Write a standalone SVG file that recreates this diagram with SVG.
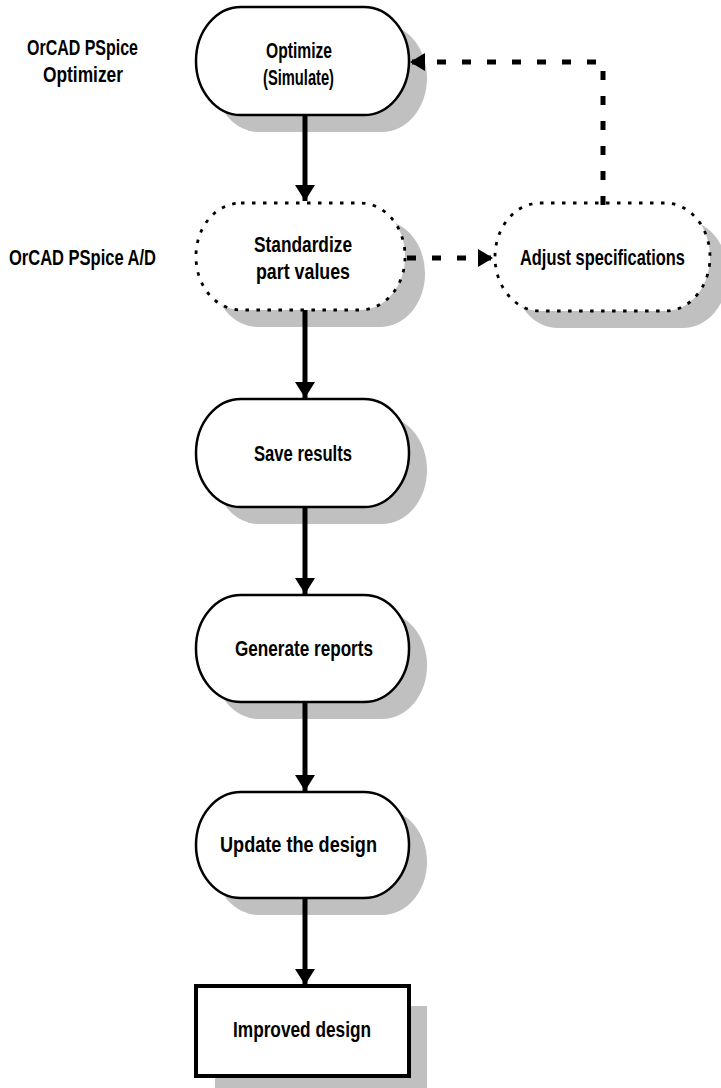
<svg xmlns="http://www.w3.org/2000/svg" width="721" height="1088" viewBox="0 0 721 1088">
<style>
.shadow{fill:#c0c0c0;stroke:none}
.node{fill:#fff;stroke:#000;stroke-width:2.5}
.dotted{fill:#fff;stroke:#000;stroke-width:2.8;stroke-dasharray:3.5 7.5}
.box{fill:#fff;stroke:#000;stroke-width:4}
.t{font-family:"Liberation Sans Narrow","Liberation Sans",Arial,sans-serif;font-weight:bold;font-size:22px;fill:#000}
.conn{fill:none;stroke:#000;stroke-width:5}
.dash{fill:none;stroke:#000;stroke-width:5;stroke-dasharray:9 16}
</style>
<defs>
<marker id="ah" markerUnits="userSpaceOnUse" markerWidth="20" markerHeight="22" refX="16" refY="10" orient="auto">
<path d="M0,0 L16,10 L0,20 Z" fill="#000"/>
</marker>
<marker id="ahs" markerUnits="userSpaceOnUse" markerWidth="18" markerHeight="20" refX="15" refY="9" orient="auto">
<path d="M0,0 L15,9 L0,18 Z" fill="#000"/>
</marker>
</defs>
<g id="labels">
<text class="t" x="27" y="55" textLength="111" lengthAdjust="spacingAndGlyphs">OrCAD PSpice</text>
<text class="t" x="43" y="82" textLength="80" lengthAdjust="spacingAndGlyphs">Optimizer</text>
<text class="t" x="9" y="265" textLength="147" lengthAdjust="spacingAndGlyphs">OrCAD PSpice A/D</text>
</g>
<g id="node-optimize">
<rect class="shadow" x="214" y="24" width="213" height="108" rx="45" ry="54"/>
<rect class="node" x="196" y="7" width="213" height="108" rx="45" ry="54"/>
<text class="t" x="266" y="58" textLength="66" lengthAdjust="spacingAndGlyphs">Optimize</text>
<text class="t" x="263" y="85" textLength="71" lengthAdjust="spacingAndGlyphs">(Simulate)</text>
</g>
<g id="node-standardize">
<rect class="shadow" x="213" y="220" width="212" height="107" rx="45" ry="53"/>
<rect class="dotted" x="196" y="203" width="209" height="107" rx="45" ry="53"/>
<text class="t" x="254" y="252" textLength="98" lengthAdjust="spacingAndGlyphs">Standardize</text>
<text class="t" x="256" y="279" textLength="94" lengthAdjust="spacingAndGlyphs">part values</text>
</g>
<g id="node-adjust">
<rect class="shadow" x="513" y="220" width="215" height="108" rx="45" ry="54"/>
<rect class="dotted" x="495" y="203" width="215" height="108" rx="45" ry="54"/>
<text class="t" transform="translate(520,265) scale(0.75,1)" x="0" y="0" textLength="220" lengthAdjust="spacingAndGlyphs">Adjust specifications</text>
</g>
<g id="node-save">
<rect class="shadow" x="214" y="416" width="213" height="108" rx="45" ry="54"/>
<rect class="node" x="196" y="399" width="213" height="108" rx="45" ry="54"/>
<text class="t" x="254" y="461" textLength="98" lengthAdjust="spacingAndGlyphs">Save results</text>
</g>
<g id="node-generate">
<rect class="shadow" x="214" y="612" width="213" height="107" rx="45" ry="53"/>
<rect class="node" x="196" y="595" width="213" height="107" rx="45" ry="53"/>
<text class="t" x="235" y="656" textLength="138" lengthAdjust="spacingAndGlyphs">Generate reports</text>
</g>
<g id="node-update">
<rect class="shadow" x="214" y="809" width="213" height="106" rx="45" ry="53"/>
<rect class="node" x="196" y="792" width="213" height="106" rx="45" ry="53"/>
<text class="t" x="220" y="852" textLength="157" lengthAdjust="spacingAndGlyphs">Update the design</text>
</g>
<g id="node-improved">
<rect class="shadow" x="215" y="1006" width="212" height="90"/>
<rect class="box" x="196" y="986" width="213" height="90"/>
<text class="t" x="233" y="1037" textLength="138" lengthAdjust="spacingAndGlyphs">Improved design</text>
</g>
<g id="connectors">
<path class="conn" d="M305,115 V201" marker-end="url(#ah)"/>
<path class="conn" d="M305,310 V398" marker-end="url(#ah)"/>
<path class="conn" d="M305,507 V594" marker-end="url(#ah)"/>
<path class="conn" d="M305,702 V791" marker-end="url(#ah)"/>
<path class="conn" d="M305,898 V985" marker-end="url(#ah)"/>
<path class="dash" d="M407,258 H493" marker-end="url(#ahs)"/>
<path class="dash" d="M603,205 V62 H410" marker-end="url(#ahs)"/>
</g>
</svg>
